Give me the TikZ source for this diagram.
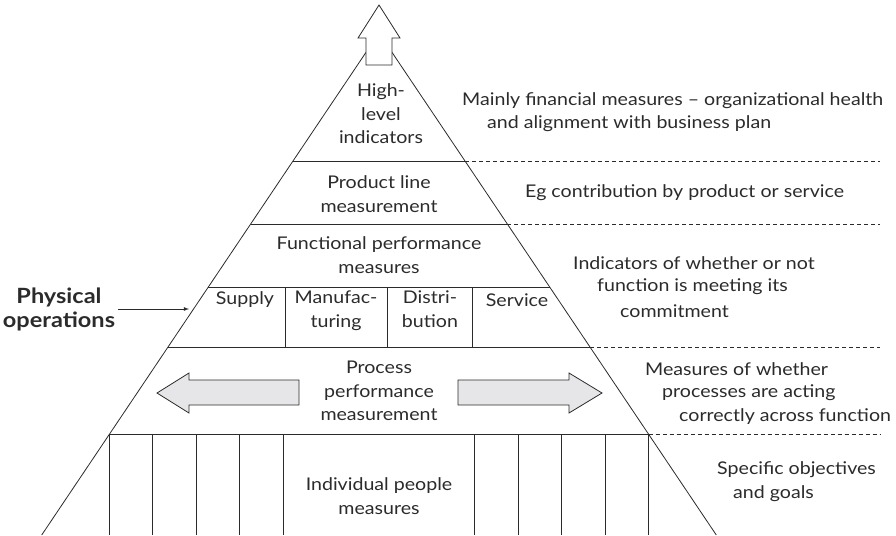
\documentclass[tikz,border=0pt]{standalone}
\usepackage{fontspec}
\setmainfont{Lato}[FakeStretch=1.12]
\definecolor{ink}{HTML}{2B2B2B}
\definecolor{arrfill}{HTML}{E6E6E8}
\begin{document}
\begin{tikzpicture}[x=1pt,y=-1pt,
  txt/.style={font=\fontsize{17.5}{23.5}\selectfont, text=ink, inner sep=0pt, align=center},
  rtxt/.style={font=\fontsize{17.5}{23.5}\selectfont, text=ink, inner sep=0pt, anchor=west},
  edge/.style={draw=ink, line width=0.8pt},
  hline/.style={draw=ink, line width=1pt},
  dline/.style={draw=ink, line width=0.8pt, dash pattern=on 4pt off 3pt},
  bigarrow/.style={draw=ink, line width=0.8pt, fill=arrfill},
  toparrow/.style={draw=ink, line width=0.8pt, fill=white}]
\useasboundingbox (0,0) rectangle (896,535);
% pyramid
\coordinate (apex) at (379,33);
\coordinate (bl) at (41.7,535);
\coordinate (br) at (716.3,535);
\draw[edge] (bl) -- (apex) -- (br);
% horizontal lines
\draw[hline] (293,161) -- (465,161);
\draw[dline] (465,161) -- (880,161);
\draw[hline] (250.6,224) -- (507.4,224);
\draw[dline] (507.4,224) -- (880,224);
\draw[hline] (208.3,287) -- (549.7,287);
\draw[hline] (168,347) -- (590,347);
\draw[dline] (590,347) -- (880,347);
\draw[hline] (109.5,434) -- (648.5,434);
\draw[dline] (648.5,434) -- (880,434);
% supply row dividers
\foreach \x in {285,387,472} \draw[hline] (\x,287) -- (\x,347);
% bottom verticals
\foreach \x in {109.5,152.9,196.3,239.7,283.1,474.9,518.3,561.7,605.1,648.5}
  \draw[hline] (\x,434) -- (\x,535);
% top arrow
\draw[toparrow] (379,5) -- (400,38) -- (392,38) -- (392,65) -- (366,65) -- (366,38) -- (358,38) -- cycle;
% process arrows
\draw[bigarrow] (157,393) -- (189,373) -- (189,380) -- (299,380) -- (299,405) -- (189,405) -- (189,413) -- cycle;
\draw[bigarrow] (602,393) -- (569,373) -- (569,380) -- (458,380) -- (458,405) -- (569,405) -- (569,413) -- cycle;
% pyramid texts
\node[txt] (high) at (381,114) {High-\\level\\indicators};
\node[txt] (prod) at (379,194) {Product line\\measurement};
\node[txt] (func) at (379,255) {Functional performance\\measures};
\node[txt] (supply) at (245,300) {Supply};
\node[txt, anchor=north] (manu) at (336,291) {Manufac-\\turing};
\node[txt, anchor=north] (dist) at (430,291) {Distri-\\bution};
\node[txt] (serv) at (517,300) {Service};
\node[txt] (proc) at (379,391) {Process\\performance\\measurement};
\node[txt] (indiv) at (379,496) {Individual people\\measures};
% left label
\node[txt, font=\fontsize{21}{24}\selectfont\bfseries] (phys) at (59,309) {Physical\\operations};
\coordinate (physend) at (189,309);
\draw[draw=ink, line width=0.8pt, -latex] (118,309) -- (physend);
% right texts
\node[rtxt] (r1a) at (462,101) {Mainly financial measures -- organizational health};
\node[rtxt] (r1b) at (487,124) {and alignment with business plan};
\node[rtxt] (r2) at (525,193) {Eg contribution by product or service};
\node[rtxt] (r3a) at (573,263) {Indicators of whether or not};
\node[rtxt] (r3b) at (597,287) {function is meeting its};
\node[rtxt] (r3c) at (620,311) {commitment};
\node[rtxt] (r4a) at (645,369) {Measures of whether};
\node[rtxt] (r4b) at (662,393) {processes are acting};
\node[rtxt] (r4c) at (679,417) {correctly across function};
\node[rtxt] (r5a) at (717,470) {Specific objectives};
\node[rtxt] (r5b) at (733,494) {and goals};
\end{tikzpicture}
\end{document}
